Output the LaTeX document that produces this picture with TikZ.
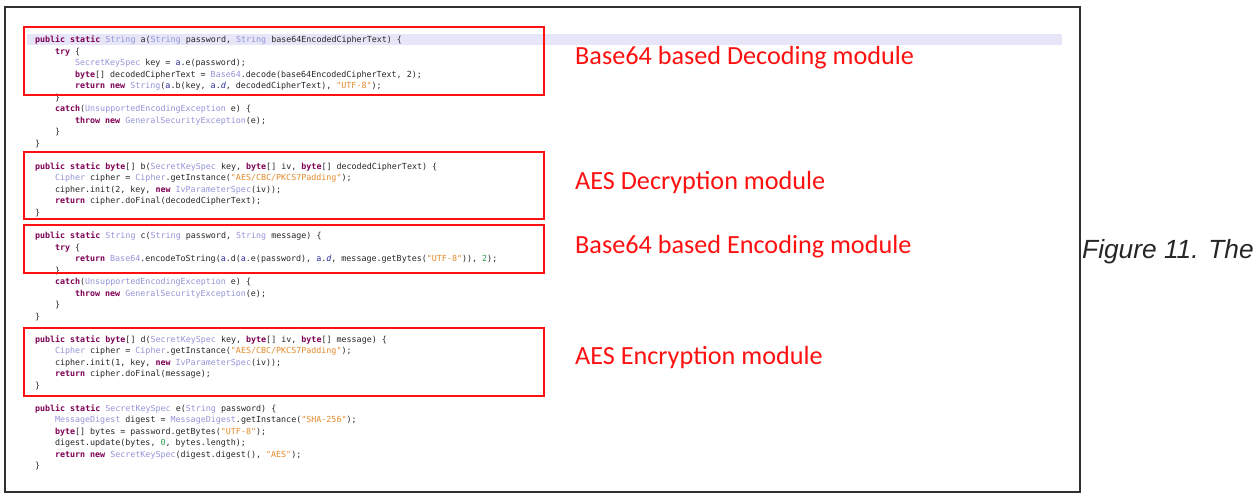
\documentclass[tikz,border=0pt]{standalone}
\usepackage{fontspec}
\setmonofont{DejaVu Sans Mono}
\newfontfamily\labelfont{Carlito}
\newfontfamily\capfont{Liberation Sans}
\definecolor{kwcol}{HTML}{7F0055}
\definecolor{tycol}{HTML}{9494D9}
\definecolor{stcol}{HTML}{E38A2A}
\definecolor{nucol}{HTML}{2E9A4A}
\definecolor{fdcol}{HTML}{2A2A9A}
\definecolor{codegray}{HTML}{262626}
\definecolor{boxred}{HTML}{FF1010}
\definecolor{bandcol}{HTML}{E6E6F8}
\definecolor{framecol}{HTML}{303030}
\newcommand\kwd[1]{\textcolor{kwcol}{\bfseries #1}}
\newcommand\typ[1]{\textcolor{tycol}{#1}}
\newcommand\strg[1]{\textcolor{stcol}{#1}}
\newcommand\numb[1]{\textcolor{nucol}{#1}}
\newcommand\fld[1]{\textcolor{fdcol}{\itshape #1}}
\newcommand\cls[1]{\textcolor{fdcol}{#1}}
\begin{document}
\begin{tikzpicture}[x=1pt,y=-1pt,
  codeline/.style={anchor=base west, inner sep=0pt, outer sep=0pt, text=codegray,
    font=\ttfamily\fontsize{8.35}{9}\selectfont},
  redbox/.style={draw=boxred, line width=2.8pt},
  modlabel/.style={anchor=west, inner sep=0pt, text=boxred,
    font=\labelfont\fontsize{26.2}{30}\selectfont},
  captext/.style={anchor=west, inner sep=0pt, text=black!85,
    font=\capfont\itshape\fontsize{26.3}{29}\selectfont}]
\useasboundingbox (0,0) rectangle (1257,497);
\fill[white] (0,0) rectangle (1257,497);
% highlighted current line
\fill[bandcol] (27,34) rectangle (1062,45);
% ---- method a
\node[codeline] (a1) at (35,43) {\kwd{public} \kwd{static} \typ{String} a(\typ{String} password, \typ{String} base64EncodedCipherText) \{};
\node[codeline] (a2) at (55,54.5) {\kwd{try} \{};
\node[codeline] (a3) at (75,66) {\typ{SecretKeySpec} key = \cls{a}.e(password);};
\node[codeline] (a4) at (75,77.5) {\kwd{byte}[] decodedCipherText = \typ{Base64}.decode(base64EncodedCipherText, 2);};
\node[codeline] (a5) at (75,89) {\kwd{return} \kwd{new} \typ{String}(\cls{a}.b(key, \cls{a}.\fld{d}, decodedCipherText), \strg{"UTF-8"});};
\node[codeline] (a6) at (55,100.5) {\}};
\node[codeline] (a7) at (55,112) {\kwd{catch}(\typ{UnsupportedEncodingException} e) \{};
\node[codeline] (a8) at (75,123.5) {\kwd{throw} \kwd{new} \typ{GeneralSecurityException}(e);};
\node[codeline] (a9) at (55,135) {\}};
\node[codeline] (a10) at (35,146.5) {\}};
% ---- method b
\node[codeline] (b1) at (35,169.5) {\kwd{public} \kwd{static} \kwd{byte}[] b(\typ{SecretKeySpec} key, \kwd{byte}[] iv, \kwd{byte}[] decodedCipherText) \{};
\node[codeline] (b2) at (55,181) {\typ{Cipher} cipher = \typ{Cipher}.getInstance(\strg{"AES/CBC/PKCS7Padding"});};
\node[codeline] (b3) at (55,192.5) {cipher.init(2, key, \kwd{new} \typ{IvParameterSpec}(iv));};
\node[codeline] (b4) at (55,204) {\kwd{return} cipher.doFinal(decodedCipherText);};
\node[codeline] (b5) at (35,215.5) {\}};
% ---- method c
\node[codeline] (c1) at (35,238.5) {\kwd{public} \kwd{static} \typ{String} c(\typ{String} password, \typ{String} message) \{};
\node[codeline] (c2) at (55,250) {\kwd{try} \{};
\node[codeline] (c3) at (75,261.5) {\kwd{return} \typ{Base64}.encodeToString(\cls{a}.d(\cls{a}.e(password), \cls{a}.\fld{d}, message.getBytes(\strg{"UTF-8"})), \numb{2});};
\node[codeline] (c4) at (55,273) {\}};
\node[codeline] (c5) at (55,284.5) {\kwd{catch}(\typ{UnsupportedEncodingException} e) \{};
\node[codeline] (c6) at (75,296) {\kwd{throw} \kwd{new} \typ{GeneralSecurityException}(e);};
\node[codeline] (c7) at (55,307.5) {\}};
\node[codeline] (c8) at (35,319) {\}};
% ---- method d
\node[codeline] (d1) at (35,342) {\kwd{public} \kwd{static} \kwd{byte}[] d(\typ{SecretKeySpec} key, \kwd{byte}[] iv, \kwd{byte}[] message) \{};
\node[codeline] (d2) at (55,353.5) {\typ{Cipher} cipher = \typ{Cipher}.getInstance(\strg{"AES/CBC/PKCS7Padding"});};
\node[codeline] (d3) at (55,365) {cipher.init(1, key, \kwd{new} \typ{IvParameterSpec}(iv));};
\node[codeline] (d4) at (55,376.5) {\kwd{return} cipher.doFinal(message);};
\node[codeline] (d5) at (35,388) {\}};
% ---- method e
\node[codeline] (e1) at (35,411) {\kwd{public} \kwd{static} \typ{SecretKeySpec} e(\typ{String} password) \{};
\node[codeline] (e2) at (55,422.5) {\typ{MessageDigest} digest = \typ{MessageDigest}.getInstance(\strg{"SHA-256"});};
\node[codeline] (e3) at (55,434) {\kwd{byte}[] bytes = password.getBytes(\strg{"UTF-8"});};
\node[codeline] (e4) at (55,445.5) {digest.update(bytes, \numb{0}, bytes.length);};
\node[codeline] (e5) at (55,457) {\kwd{return} \kwd{new} \typ{SecretKeySpec}(digest.digest(), \strg{"AES"});};
\node[codeline] (e6) at (35,468.5) {\}};
% ---- red boxes
\draw[redbox] (24,27) rectangle (544,95);
\draw[redbox] (24,152) rectangle (544,219);
\draw[redbox] (24,225) rectangle (544,273);
\draw[redbox] (24,328) rectangle (544,396);
% ---- labels
\node[modlabel] (labA) at (575,58) {Base64 based Decoding module};
\node[modlabel] (labB) at (575,183) {AES Decryption module};
\node[modlabel] (labC) at (575,247) {Base64 based Encoding module};
\node[modlabel] (labD) at (575,358) {AES Encryption module};
% ---- frame and caption
\draw[framecol, line width=1.3pt] (5,7) rectangle (1080,492);
\node[captext] (caption) at (1082,252) {Figure 11. The};
\end{tikzpicture}
\end{document}
